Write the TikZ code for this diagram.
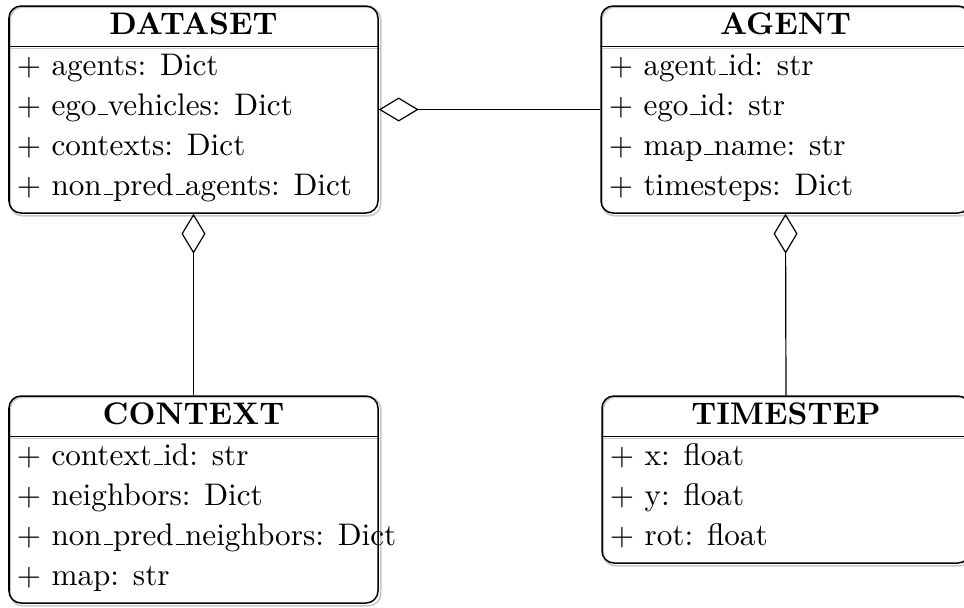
\documentclass[tikz,border=0pt]{standalone}
\usetikzlibrary{arrows.meta,fit,backgrounds}
% narrow baseline rule for identifiers, as in the classic text underscore
\newcommand{\attrbar}{\leavevmode\kern.06em\vbox{\hrule width.3em}}
\begin{document}
\begin{tikzpicture}[x=0.3333pt,y=-0.3333pt,
  every node/.style={font=\fontsize{10.4}{12.5}\selectfont},
  classbox/.style={draw=black, line width=0.5pt, rounded corners=4pt, inner sep=0pt},
  shadowline/.style={draw=black!22, line width=0.5pt},
  sepline/.style={draw=black, line width=0.5pt},
  classtitle/.style={anchor=base, inner sep=0pt, font=\fontsize{10.4}{12.5}\selectfont\bfseries},
  attr/.style={anchor=base west, inner sep=0pt},
  aggregation/.style={draw=black, line width=0.4pt,
    -{Diamond[open, length=13.3pt, width=8pt, line width=0.4pt]}},
]
\useasboundingbox (0,0) rectangle (964,607);

% class frames
\node[classbox, fit={(9,6) (378,213)}]    (dataset)  {};
\node[classbox, fit={(601,6) (970,213)}]  (agent)    {};
\node[classbox, fit={(9,396) (378,603)}]  (context)  {};
\node[classbox, fit={(602,396) (970,563)}] (timestep) {};

% title separators
\foreach \c in {dataset,agent,context,timestep}{
  \draw[sepline] ([yshift=-13.67pt]\c.north west) -- ([yshift=-13.67pt]\c.north east);
}

% light copies behind each frame
\begin{scope}[on background layer]
  \foreach \c in {dataset,agent,context,timestep}{
    \draw[shadowline, rounded corners=4pt]
      ([shift={(2,2)}]\c.north west) rectangle ([shift={(2,2)}]\c.south east);
    \draw[shadowline]
      ([shift={(2,2)},yshift=-13.67pt]\c.north west) -- ([shift={(2,2)},yshift=-13.67pt]\c.north east);
  }
\end{scope}

% titles
\node[classtitle] (dataset-title)  at ([yshift=-9.67pt]dataset.north)  {DATASET};
\node[classtitle] (agent-title)    at ([yshift=-9.67pt]agent.north)    {AGENT};
\node[classtitle] (context-title)  at ([yshift=-9.67pt]context.north)  {CONTEXT};
\node[classtitle] (timestep-title) at ([yshift=-9.67pt]timestep.north) {TIMESTEP};

% attributes
\node[attr] (dataset-a1) at ([xshift=2.67pt,yshift=-23.33pt]dataset.north west) {+ agents: Dict};
\node[attr] (dataset-a2) at ([xshift=2.67pt,yshift=-36.67pt]dataset.north west) {+ ego\attrbar vehicles: Dict};
\node[attr] (dataset-a3) at ([xshift=2.67pt,yshift=-50pt]dataset.north west)    {+ contexts: Dict};
\node[attr] (dataset-a4) at ([xshift=2.67pt,yshift=-63.33pt]dataset.north west) {+ non\attrbar pred\attrbar agents: Dict};

\node[attr] (agent-a1) at ([xshift=2.67pt,yshift=-23.33pt]agent.north west) {+ agent\attrbar id: str};
\node[attr] (agent-a2) at ([xshift=2.67pt,yshift=-36.67pt]agent.north west) {+ ego\attrbar id: str};
\node[attr] (agent-a3) at ([xshift=2.67pt,yshift=-50pt]agent.north west)    {+ map\attrbar name: str};
\node[attr] (agent-a4) at ([xshift=2.67pt,yshift=-63.33pt]agent.north west) {+ timesteps: Dict};

\node[attr] (context-a1) at ([xshift=2.67pt,yshift=-23.33pt]context.north west) {+ context\attrbar id: str};
\node[attr] (context-a2) at ([xshift=2.67pt,yshift=-36.67pt]context.north west) {+ neighbors: Dict};
\node[attr] (context-a3) at ([xshift=2.67pt,yshift=-50pt]context.north west)    {+ non\attrbar pred\attrbar neighbors: Dict};
\node[attr] (context-a4) at ([xshift=2.67pt,yshift=-63.33pt]context.north west) {+ map: str};

\node[attr] (timestep-a1) at ([xshift=2.67pt,yshift=-23.33pt]timestep.north west) {+ x: float};
\node[attr] (timestep-a2) at ([xshift=2.67pt,yshift=-36.67pt]timestep.north west) {+ y: float};
\node[attr] (timestep-a3) at ([xshift=2.67pt,yshift=-50pt]timestep.north west)    {+ rot: float};

% aggregations
\draw[aggregation] (agent.west) -- (dataset.east);
\draw[aggregation] (context.north) -- (dataset.south);
\draw[aggregation] (timestep.north) -- (agent.south);
\end{tikzpicture}
\end{document}
